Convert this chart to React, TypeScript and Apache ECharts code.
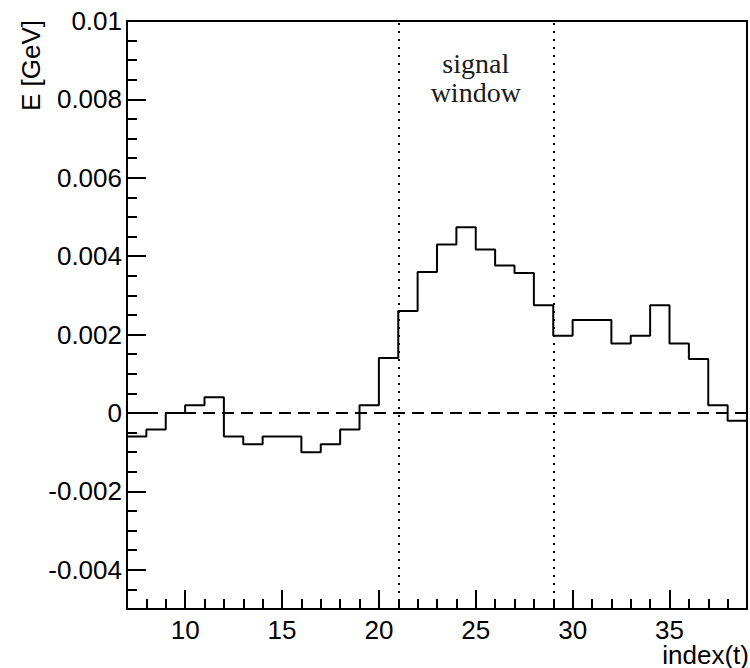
import { useEffect, useRef } from "react";
import * as echarts from "echarts";

// ---- data ----
const binLowEdges = [7, 8, 9, 10, 11, 12, 13, 14, 15, 16, 17, 18, 19, 20, 21, 22, 23, 24, 25, 26, 27, 28, 29, 30, 31, 32, 33, 34, 35, 36, 37, 38];
const binWidth = 1;
const energies = [
  -0.0006, -0.00042, 0.0, 0.0002, 0.0004, -0.0006, -0.0008, -0.0006, -0.0006, -0.001,
  -0.0008, -0.00042, 0.0002, 0.0014, 0.0026, 0.0036, 0.0043, 0.00474, 0.00417, 0.00376,
  0.00357, 0.00275, 0.00197, 0.00237, 0.00237, 0.00177, 0.00197, 0.00275, 0.00177, 0.00138,
  0.0002, -0.0002,
];
const xRange = [7, 39];
const yRange = [-0.005, 0.01];
const signalWindow = [21, 29];
const signalLabelLines = ["signal", "window"];
const signalLabelY = 0.00855;
const xTitle = "index(t)";
const yTitle = "E [GeV]";

const SANS = "'Liberation Sans', Arial, Helvetica, sans-serif";
const SERIF = "'Liberation Serif', 'Times New Roman', serif";

function fmtMajorY(v: number) {
  const k = v / 0.002;
  if (Math.abs(k - Math.round(k)) > 1e-6) return "";
  return String(Number(v.toFixed(6)));
}
function fmtMajorX(v: number) {
  const r = Math.round(v);
  return Math.abs(v - r) < 1e-9 && r % 5 === 0 ? String(r) : "";
}

export default function App() {
  const ref = useRef<HTMLDivElement>(null);
  useEffect(() => {
    if (!ref.current) return;
    const chart = echarts.init(ref.current, null, { renderer: "svg" });
    const last = binLowEdges.length - 1;
    const stepData: number[][] = binLowEdges.map((x, i) => [x, energies[i]]);
    stepData.push([binLowEdges[last] + binWidth, energies[last]]);

    const tickStyle = { color: "#000", width: 2 };
    const labelStyle = { color: "#000", fontSize: 26, fontFamily: SANS };

    chart.setOption({
      animation: false,
      backgroundColor: "#fff",
      grid: {
        left: 127,
        top: 21,
        right: 3,
        bottom: 59,
        show: true,
        borderColor: "#000",
        borderWidth: 2,
        backgroundColor: "transparent",
      },
      xAxis: [
        {
          type: "value",
          min: xRange[0],
          max: xRange[1],
          interval: 1,
          position: "bottom",
          axisLine: { show: true, onZero: false, lineStyle: tickStyle },
          axisTick: { show: true, inside: true, length: 10, lineStyle: tickStyle },
          axisLabel: { show: false },
          splitLine: { show: false },
        },
        {
          type: "value",
          min: xRange[0],
          max: xRange[1],
          position: "bottom",
          axisLine: { show: false, onZero: false },
          axisTick: { show: true, inside: true, length: 19, lineStyle: tickStyle },
          axisLabel: { show: true, margin: 10, lineHeight: 22, formatter: fmtMajorX, ...labelStyle },
          splitLine: { show: false },
        },
      ],
      yAxis: [
        {
          type: "value",
          min: yRange[0],
          max: yRange[1],
          interval: 0.0005,
          position: "left",
          axisLine: { show: true, onZero: false, lineStyle: tickStyle },
          axisTick: { show: true, inside: true, length: 10, lineStyle: tickStyle },
          axisLabel: { show: false },
          splitLine: { show: false },
        },
        {
          type: "value",
          min: yRange[0],
          max: yRange[1],
          splitNumber: 7,
          position: "left",
          axisLine: { show: false, onZero: false },
          axisTick: { show: true, inside: true, length: 19, lineStyle: tickStyle },
          axisLabel: {
            show: true,
            margin: 5,
            padding: [4, 0, 0, 0],
            formatter: fmtMajorY,
            ...labelStyle,
          },
          splitLine: { show: false },
        },
      ],
      series: [
        {
          type: "line",
          xAxisIndex: 0,
          yAxisIndex: 0,
          step: "end",
          data: stepData,
          symbol: "none",
          lineStyle: { color: "#000", width: 2 },
          z: 3,
          markLine: {
            silent: true,
            symbol: ["none", "none"],
            label: { show: false },
            animation: false,
            data: [
              { yAxis: 0, lineStyle: { color: "#000", width: 2, type: [12, 7] } },
              { xAxis: signalWindow[0], lineStyle: { color: "#000", width: 2, type: [2, 6] } },
              { xAxis: signalWindow[1], lineStyle: { color: "#000", width: 2, type: [2, 6] } },
            ],
          },
          markPoint: {
            silent: true,
            symbol: "rect",
            symbolSize: 1,
            itemStyle: { color: "transparent" },
            data: [
              {
                coord: [(signalWindow[0] + signalWindow[1]) / 2, signalLabelY],
                label: {
                  show: true,
                  position: "inside",
                  formatter: signalLabelLines.join("\n"),
                  fontFamily: SERIF,
                  fontSize: 28,
                  lineHeight: 29,
                  color: "#1a1a1a",
                  align: "center",
                  verticalAlign: "middle",
                },
              },
            ],
          },
        },
      ],
      graphic: [
        {
          type: "text",
          x: 31,
          y: 20,
          rotation: Math.PI / 2,
          style: {
            text: yTitle,
            fill: "#000",
            fontSize: 26,
            fontFamily: SANS,
            align: "right",
            textAlign: "right",
            verticalAlign: "middle",
            textVerticalAlign: "middle",
          },
        },
        {
          type: "text",
          x: 749,
          y: 655,
          style: {
            text: xTitle,
            fill: "#000",
            fontSize: 26,
            lineHeight: 22,
            fontFamily: SANS,
            align: "right",
            textAlign: "right",
            verticalAlign: "middle",
            textVerticalAlign: "middle",
          },
        },
      ],
    });
    return () => chart.dispose();
  }, []);
  return (
    <div
      ref={ref}
      style={{ position: "fixed", left: 0, top: 0, width: 750, height: 668, background: "#fff" }}
    />
  );
}
